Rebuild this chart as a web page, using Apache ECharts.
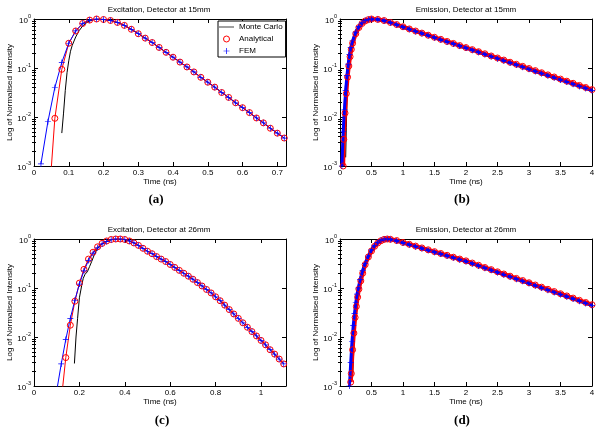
<!DOCTYPE html>
<html>
<head>
<meta charset="utf-8">
<script src="https://cdn.jsdelivr.net/npm/echarts@6/dist/echarts.min.js"></script>
<style>
  html, body { margin: 0; padding: 0; background: #fff; }
  #main { width: 600px; height: 429px; }
</style>
</head>
<body>
<div id="main"></div>
<script>
// ---- tick labels ----
const yMajorTicks = [0.001, 0.01, 0.1, 1];
const yMinorTicks = [0.002, 0.003, 0.004, 0.005, 0.006, 0.007, 0.008, 0.009,
  0.02, 0.03, 0.04, 0.05, 0.06, 0.07, 0.08, 0.09,
  0.2, 0.3, 0.4, 0.5, 0.6, 0.7, 0.8, 0.9];
const xTicksA = [0, 0.1, 0.2, 0.3, 0.4, 0.5, 0.6, 0.7];
const xTicksB = [0, 0.5, 1, 1.5, 2, 2.5, 3, 3.5, 4];
const xTicksC = [0, 0.2, 0.4, 0.6, 0.8, 1];
const xTicksD = [0, 0.5, 1, 1.5, 2, 2.5, 3, 3.5, 4];

// ---- (a) Excitation, 15mm ----
const timeFemA = [0.02, 0.04, 0.06, 0.08, 0.10, 0.12, 0.14, 0.16, 0.18, 0.20];
const femRiseA = [0.0011, 0.008, 0.04, 0.13, 0.32, 0.57, 0.81, 0.95, 1.0, 0.977];
const timeAnA = [0.04, 0.06, 0.08, 0.10, 0.12, 0.14, 0.16, 0.18, 0.20];
const anRiseA = [0.0001, 0.0094, 0.094, 0.32, 0.57, 0.81, 0.95, 1.0, 0.977];
const timeMcA = [0.08, 0.085, 0.09, 0.095, 0.1, 0.105, 0.11, 0.12, 0.13, 0.14, 0.15, 0.16, 0.17, 0.18, 0.19, 0.2];
const mcRiseA = [0.0047, 0.012, 0.035, 0.08, 0.14, 0.22, 0.29, 0.43, 0.58, 0.72, 0.83, 0.91, 0.96, 0.99, 1.0, 0.98];
const timeTailA = [0.22, 0.24, 0.26, 0.28, 0.30, 0.32, 0.34, 0.36, 0.38, 0.40, 0.42, 0.44, 0.46,
  0.48, 0.50, 0.52, 0.54, 0.56, 0.58, 0.60, 0.62, 0.64, 0.66, 0.68, 0.70, 0.72];
const tailA = [0.933, 0.851, 0.741, 0.617, 0.501, 0.407, 0.331, 0.263, 0.209, 0.166, 0.132, 0.105, 0.0832,
  0.0646, 0.0513, 0.0407, 0.0316, 0.0251, 0.0195, 0.0155, 0.0123, 0.00955, 0.00759, 0.00589, 0.00468, 0.00372];

// ---- (b) Emission, 15mm ----
const timeFemB = [0.03, 0.05, 0.07, 0.09, 0.11, 0.13, 0.15, 0.17, 0.2, 0.25, 0.3, 0.35, 0.4, 0.45, 0.5];
const femRiseB = [0.001, 0.005, 0.014, 0.035, 0.07, 0.12, 0.19, 0.26, 0.36, 0.54, 0.7, 0.83, 0.93, 0.98, 1.0];
const timeAnB = [0.05, 0.06, 0.08, 0.1, 0.12, 0.14, 0.16, 0.18, 0.2, 0.25, 0.3, 0.35, 0.4, 0.45, 0.5];
const anRiseB = [0.001, 0.0035, 0.012, 0.03, 0.065, 0.11, 0.17, 0.24, 0.32, 0.5, 0.67, 0.81, 0.91, 0.97, 1.0];
const timeMcB = [0.09, 0.1, 0.11, 0.12, 0.14, 0.16, 0.18, 0.2, 0.25, 0.3, 0.35, 0.4, 0.45, 0.5];
const mcRiseB = [0.0015, 0.006, 0.02, 0.045, 0.1, 0.17, 0.24, 0.32, 0.5, 0.67, 0.81, 0.91, 0.97, 1.0];
const timeTailB = [0.6, 0.7, 0.8, 0.9, 1.0, 1.1, 1.2, 1.3, 1.4, 1.5, 1.6, 1.7, 1.8, 1.9, 2.0, 2.1, 2.2, 2.3,
  2.4, 2.5, 2.6, 2.7, 2.8, 2.9, 3.0, 3.1, 3.2, 3.3, 3.4, 3.5, 3.6, 3.7, 3.8, 3.9, 4.0];
const femTailB = [0.977, 0.923, 0.841, 0.759, 0.684, 0.617, 0.558, 0.506, 0.458, 0.415, 0.376, 0.341, 0.310,
  0.281, 0.255, 0.231, 0.209, 0.189, 0.171, 0.155, 0.140, 0.127, 0.115, 0.104, 0.0939, 0.0850, 0.0769,
  0.0695, 0.0629, 0.0569, 0.0515, 0.0466, 0.0421, 0.0381, 0.0345];
const anTailB = [0.98, 0.93, 0.85, 0.77, 0.695, 0.627, 0.568, 0.515, 0.467, 0.423, 0.384, 0.348, 0.317,
  0.287, 0.261, 0.237, 0.215, 0.195, 0.176, 0.160, 0.145, 0.131, 0.119, 0.108, 0.0975, 0.0884, 0.0800,
  0.0724, 0.0656, 0.0594, 0.0538, 0.0487, 0.0441, 0.0400, 0.0362];
const mcTailB = [0.98, 0.925, 0.845, 0.765, 0.69, 0.622, 0.563, 0.51, 0.462, 0.419, 0.38, 0.344, 0.313,
  0.284, 0.258, 0.234, 0.212, 0.192, 0.173, 0.157, 0.142, 0.129, 0.117, 0.106, 0.0955, 0.0866, 0.0784,
  0.071, 0.0642, 0.0581, 0.0526, 0.0476, 0.0431, 0.039, 0.0353];

// ---- (c) Excitation, 26mm ----
const timeFemC = [0.1, 0.12, 0.14, 0.16, 0.18, 0.2, 0.22, 0.24, 0.26, 0.28, 0.3, 0.32, 0.34, 0.36, 0.38];
const femRiseC = [0.000794, 0.00282, 0.00891, 0.024, 0.0562, 0.12, 0.224, 0.363, 0.513, 0.661, 0.794, 0.891, 0.966, 1.0, 1.0];
const timeAnC = [0.12, 0.14, 0.16, 0.18, 0.2, 0.22, 0.24, 0.26, 0.28, 0.3, 0.32, 0.34, 0.36, 0.38];
const anRiseC = [0.000501, 0.0038, 0.0174, 0.0537, 0.126, 0.24, 0.389, 0.537, 0.692, 0.813, 0.912, 0.977, 1.0, 1.0];
const timeMcC = [0.178, 0.185, 0.192, 0.2, 0.21, 0.217, 0.225, 0.235, 0.245, 0.254, 0.265, 0.276, 0.29, 0.3, 0.32, 0.34, 0.36, 0.38];
const mcRiseC = [0.00288, 0.01, 0.024, 0.0631, 0.112, 0.158, 0.191, 0.214, 0.275, 0.347, 0.468, 0.603, 0.724, 0.794, 0.891, 0.966, 0.995, 1.0];
const timeTailC = [0.4, 0.42, 0.44, 0.46, 0.48, 0.5, 0.52, 0.54, 0.56, 0.58, 0.6, 0.62, 0.64, 0.66, 0.68, 0.7,
  0.72, 0.74, 0.76, 0.78, 0.8, 0.82, 0.84, 0.86, 0.88, 0.9, 0.92, 0.94, 0.96, 0.98, 1.0, 1.02, 1.04, 1.06, 1.08, 1.1];
const tailC = [0.977, 0.912, 0.832, 0.741, 0.646, 0.562, 0.501, 0.437, 0.389, 0.347, 0.302, 0.263, 0.229, 0.200,
  0.174, 0.151, 0.129, 0.110, 0.0933, 0.0794, 0.0661, 0.0550, 0.0447, 0.0363, 0.0295, 0.0240, 0.0195, 0.0158,
  0.0129, 0.0105, 0.00851, 0.00692, 0.00550, 0.00447, 0.00355, 0.00282];

// ---- (d) Emission, 26mm ----
const timeFemD = [0.15, 0.17, 0.19, 0.21, 0.23, 0.25, 0.27, 0.29, 0.32, 0.36, 0.4, 0.45, 0.5, 0.55, 0.6, 0.65, 0.7, 0.75];
const femRiseD = [0.001, 0.003, 0.008, 0.017, 0.03, 0.05, 0.075, 0.1, 0.15, 0.23, 0.32, 0.45, 0.6, 0.74, 0.85, 0.94, 0.99, 1.0];
const timeAnD = [0.17, 0.18, 0.2, 0.22, 0.24, 0.26, 0.28, 0.3, 0.33, 0.36, 0.4, 0.45, 0.5, 0.55, 0.6, 0.65, 0.7, 0.75];
const anRiseD = [0.0012, 0.0018, 0.0055, 0.012, 0.025, 0.042, 0.065, 0.095, 0.14, 0.2, 0.3, 0.43, 0.57, 0.71, 0.83, 0.92, 0.98, 1.0];
const timeMcD = [0.2, 0.22, 0.24, 0.26, 0.28, 0.3, 0.33, 0.36, 0.4, 0.45, 0.5, 0.55, 0.6, 0.65, 0.7, 0.75];
const mcRiseD = [0.0015, 0.006, 0.017, 0.035, 0.06, 0.09, 0.14, 0.2, 0.3, 0.43, 0.57, 0.71, 0.83, 0.92, 0.98, 1.0];
const timeTailD = [0.8, 0.9, 1.0, 1.1, 1.2, 1.3, 1.4, 1.5, 1.6, 1.7, 1.8, 1.9, 2.0, 2.1, 2.2, 2.3, 2.4, 2.5,
  2.6, 2.7, 2.8, 2.9, 3.0, 3.1, 3.2, 3.3, 3.4, 3.5, 3.6, 3.7, 3.8, 3.9, 4.0];
const femTailD = [0.973, 0.912, 0.832, 0.762, 0.698, 0.640, 0.586, 0.537, 0.492, 0.451, 0.413, 0.378, 0.347,
  0.313, 0.282, 0.254, 0.229, 0.207, 0.186, 0.168, 0.151, 0.137, 0.123, 0.111, 0.100, 0.0903, 0.0814,
  0.0734, 0.0662, 0.0597, 0.0538, 0.0485, 0.0437];
const anTailD = [0.985, 0.93, 0.85, 0.78, 0.716, 0.657, 0.602, 0.552, 0.506, 0.464, 0.425, 0.39, 0.358,
  0.323, 0.291, 0.262, 0.237, 0.214, 0.193, 0.174, 0.157, 0.142, 0.128, 0.115, 0.104, 0.0939, 0.0847,
  0.0764, 0.0689, 0.0622, 0.0561, 0.0506, 0.0456];
const timeMcTailD = [0.8, 0.9, 1.0, 1.1, 1.2, 1.3, 1.4, 1.5, 1.6, 1.7, 1.8, 1.9, 2.0, 2.1, 2.2, 2.3, 2.4, 2.5,
  2.6, 2.7, 2.8, 2.85, 2.9, 2.95, 3.0, 3.05, 3.1, 3.15, 3.2, 3.25, 3.3, 3.35, 3.4, 3.45, 3.5, 3.55, 3.6,
  3.65, 3.7, 3.75, 3.8, 3.85, 3.9, 3.95, 4.0];
const mcTailD = [0.975, 0.915, 0.835, 0.765, 0.70, 0.642, 0.588, 0.539, 0.494, 0.452, 0.414, 0.40, 0.348,
  0.314, 0.283, 0.255, 0.23, 0.208, 0.187, 0.169, 0.151, 0.158, 0.137, 0.130, 0.133, 0.117, 0.111, 0.104,
  0.100, 0.108, 0.0903, 0.0857, 0.0814, 0.0772, 0.0734, 0.0800, 0.0662, 0.0610, 0.0597, 0.0600, 0.0538,
  0.0560, 0.0485, 0.0470, 0.0437];

const FONT = 'Liberation Sans, Arial, sans-serif';
const PLUS = 'path://M0,4.4h10v1.2h-10z M4.4,0h1.2v10h-1.2z';
const DASH = 'path://M0,0h24v1.2h-24z';

const panels = [
  { title: 'Excitation, Detector at 15mm', tag: '(a)', left: 34, top: 19, xMax: 0.725, xTicks: xTicksA,
    mc: [timeMcA.concat(timeTailA), mcRiseA.concat(tailA)],
    an: [timeAnA.concat(timeTailA), anRiseA.concat(tailA)],
    fem: [timeFemA.concat(timeTailA), femRiseA.concat(tailA)],
    thick: false, titleX: 159, titleY: 10, tagX: 156, tagY: 200 },
  { title: 'Emission, Detector at 15mm', tag: '(b)', left: 340, top: 19, xMax: 4, xTicks: xTicksB,
    mc: [timeMcB.concat(timeTailB), mcRiseB.concat(mcTailB)],
    an: [timeAnB.concat(timeTailB), anRiseB.concat(anTailB)],
    fem: [timeFemB.concat(timeTailB), femRiseB.concat(femTailB)],
    thick: true, titleX: 466, titleY: 10, tagX: 462, tagY: 200 },
  { title: 'Excitation, Detector at 26mm', tag: '(c)', left: 34, top: 239, xMax: 1.11, xTicks: xTicksC,
    mc: [timeMcC.concat(timeTailC), mcRiseC.concat(tailC)],
    an: [timeAnC.concat(timeTailC), anRiseC.concat(tailC)],
    fem: [timeFemC.concat(timeTailC), femRiseC.concat(tailC)],
    thick: false, titleX: 159, titleY: 230, tagX: 162, tagY: 421 },
  { title: 'Emission, Detector at 26mm', tag: '(d)', left: 340, top: 239, xMax: 4, xTicks: xTicksD,
    mc: [timeMcD.concat(timeMcTailD), mcRiseD.concat(mcTailD)],
    an: [timeAnD.concat(timeTailD), anRiseD.concat(anTailD)],
    fem: [timeFemD.concat(timeTailD), femRiseD.concat(femTailD)],
    thick: true, titleX: 466, titleY: 230, tagX: 462, tagY: 421 }
];

const grids = [], xAxes = [], yAxes = [], series = [], graphics = [];

panels.forEach((p, i) => {
  grids.push({ left: p.left, top: p.top, width: 252, height: 147 });

  ['bottom', 'top'].forEach(pos => {
    const main = pos === 'bottom';
    xAxes.push({
      type: 'value', gridIndex: i, position: pos, min: 0, max: p.xMax,
      name: main ? 'Time (ns)' : '', nameLocation: 'middle', nameGap: 10,
      nameTextStyle: { fontSize: 8, color: '#000', fontFamily: FONT },
      axisLine: { show: true, onZero: false, lineStyle: { color: '#000', width: 1 } },
      axisTick: { show: true, inside: true, length: 4, customValues: p.xTicks, lineStyle: { color: '#000' } },
      axisLabel: { show: main, customValues: p.xTicks, fontSize: 8, color: '#000', margin: 3, fontFamily: FONT },
      splitLine: { show: false }
    });
  });

  ['left', 'right'].forEach(pos => {
    const main = pos === 'left';
    yAxes.push({
      type: 'log', logBase: 10, gridIndex: i, position: pos, min: 0.001, max: 1,
      name: main ? 'Log of Normalised Intensity' : '', nameLocation: 'middle', nameGap: 17,
      nameTextStyle: { fontSize: 8, color: '#000', fontFamily: FONT },
      axisLine: { show: true, onZero: false, lineStyle: { color: '#000', width: 1 } },
      axisTick: { show: true, inside: true, length: 4, customValues: yMajorTicks, lineStyle: { color: '#000' } },
      axisLabel: {
        show: main, customValues: yMajorTicks, margin: 3,
        formatter: v => '{b|10}{s|' + Math.round(Math.log10(v)) + '}',
        rich: {
          b: { fontSize: 8, color: '#000', fontFamily: FONT, lineHeight: 12, verticalAlign: 'bottom' },
          s: { fontSize: 5.5, color: '#000', fontFamily: FONT, lineHeight: 7, verticalAlign: 'top' }
        }
      },
      splitLine: { show: false }
    });
    yAxes.push({
      type: 'log', logBase: 10, gridIndex: i, position: pos, min: 0.001, max: 1,
      axisLine: { show: false },
      axisTick: { show: true, inside: true, length: 2, customValues: yMinorTicks, lineStyle: { color: '#000' } },
      axisLabel: { show: false },
      splitLine: { show: false }
    });
  });

  const zip = d => d[0].map((x, k) => [x, d[1][k]]);
  const base = { type: 'line', xAxisIndex: i * 2, yAxisIndex: i * 4, clip: true, silent: true,
    emphasis: { disabled: true }, animation: false };
  series.push(Object.assign({}, base, {
    name: 'Monte Carlo', data: zip(p.mc), symbol: 'none',
    itemStyle: { color: '#000' }, lineStyle: { color: '#000', width: 1 }
  }));
  series.push(Object.assign({}, base, {
    name: 'Analytical', data: zip(p.an), symbol: 'circle', symbolSize: 6,
    itemStyle: { color: 'rgba(255,0,0,0)', borderColor: '#ff0000', borderWidth: 1 },
    lineStyle: { color: '#ff0000', width: p.thick ? 4 : 1 }
  }));
  series.push(Object.assign({}, base, {
    name: 'FEM', data: zip(p.fem), symbol: PLUS, symbolSize: 6,
    itemStyle: { color: '#0000ff' },
    lineStyle: { color: '#0000ff', width: p.thick ? 3 : 1 }
  }));

  graphics.push({ type: 'text', x: p.titleX, y: p.titleY,
    style: { text: p.title, fontSize: 8, fontFamily: FONT, fill: '#000', align: 'center', verticalAlign: 'middle' } });
  graphics.push({ type: 'text', x: p.tagX, y: p.tagY,
    style: { text: p.tag, fontSize: 13, fontWeight: 'bold', fontFamily: 'Liberation Serif, Times New Roman, serif',
      fill: '#000', align: 'center', verticalAlign: 'middle' } });
});

const chart = echarts.init(document.getElementById('main'));
chart.setOption({
  animation: false,
  backgroundColor: '#fff',
  grid: grids,
  xAxis: xAxes,
  yAxis: yAxes,
  series: series,
  graphic: graphics,
  legend: {
    data: [
      { name: 'Monte Carlo', icon: DASH, itemStyle: { color: '#000' } },
      { name: 'Analytical', icon: 'circle', itemStyle: { color: 'rgba(255,0,0,0)', borderColor: '#ff0000', borderWidth: 1 } },
      { name: 'FEM', icon: PLUS, itemStyle: { color: '#0000ff' } }
    ],
    orient: 'vertical', left: 218, top: 21, itemWidth: 15, itemHeight: 6, itemGap: 4,
    padding: [2, 3, 2, 1], backgroundColor: '#fff', borderColor: '#000', borderWidth: 1,
    selectedMode: false,
    textStyle: { fontSize: 8, color: '#000', fontFamily: FONT }
  }
});
</script>
</body>
</html>
